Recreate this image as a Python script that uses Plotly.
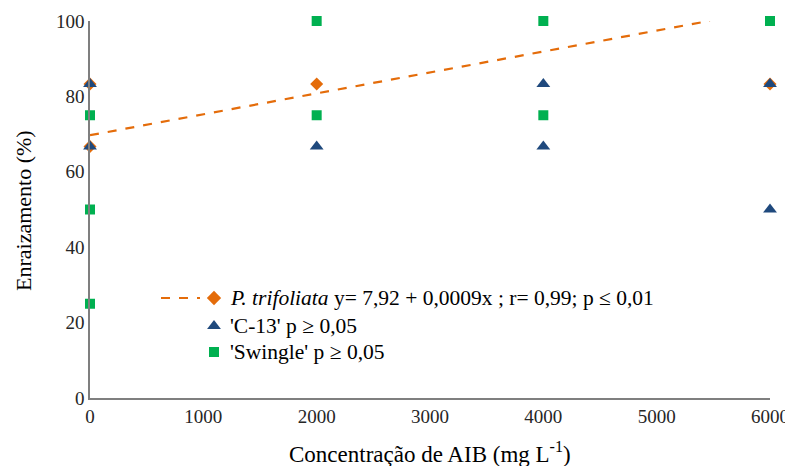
import plotly.graph_objects as go

# ---- data ----
conc = [0, 0, 2000, 6000]
trifoliata = [83.3, 66.7, 83.3, 83.3]
c13_x = [0, 0, 2000, 4000, 4000, 6000, 6000]
c13_y = [83.3, 66.7, 66.7, 83.3, 66.7, 83.3, 50]
swingle_x = [0, 0, 0, 2000, 2000, 4000, 4000, 6000]
swingle_y = [75, 50, 25, 100, 75, 100, 75, 100]
trend_intercept = 69.7
trend_slope = 0.00555
trend_x = [0, 5470]
trend_y = [trend_intercept + trend_slope * v for v in trend_x]

x_ticks = [0, 1000, 2000, 3000, 4000, 5000, 6000]
y_ticks = [0, 20, 40, 60, 80, 100]

ORANGE = "#E46C0A"
BLUE = "#1F497D"
GREEN = "#00B050"
AXIS = "#7F7F7F"
FONT = "Liberation Serif, Times New Roman, DejaVu Serif, serif"

OFF = 8  # page body margin
W, H = 793 - OFF, 466 - OFF
L, R, T, B = 90 - OFF, 770 - OFF, 21 - OFF, 398 - OFF

fig = go.Figure()
fig.add_trace(go.Scatter(x=trend_x, y=trend_y, mode="lines",
                         line=dict(color=ORANGE, width=2.2, dash="dash"),
                         cliponaxis=False, showlegend=False, hoverinfo="skip"))
fig.add_trace(go.Scatter(x=conc, y=trifoliata, mode="markers",
                         marker=dict(symbol="diamond", size=10, color=ORANGE),
                         cliponaxis=False, showlegend=False))
fig.add_trace(go.Scatter(x=c13_x, y=c13_y, mode="markers",
                         marker=dict(symbol="triangle-up", size=12, color=BLUE),
                         cliponaxis=False, showlegend=False))
fig.add_trace(go.Scatter(x=swingle_x, y=swingle_y, mode="markers",
                         marker=dict(symbol="square", size=10, color=GREEN),
                         cliponaxis=False, showlegend=False))

# ---- custom legend (overlay axis in plot-fraction coordinates) ----
def fx(px):
    return (px - OFF - L) / (R - L)
def fy(py):
    return (B - (py - OFF)) / (B - T)

rows = [298, 326, 352]
fig.add_trace(go.Scatter(x=[fx(161), fx(200)], y=[fy(rows[0])] * 2, mode="lines",
                         line=dict(color=ORANGE, width=2.2, dash="dash"),
                         xaxis="x2", yaxis="y2", showlegend=False, hoverinfo="skip"))
fig.add_trace(go.Scatter(x=[fx(214)], y=[fy(rows[0])], mode="markers",
                         marker=dict(symbol="diamond", size=11, color=ORANGE),
                         xaxis="x2", yaxis="y2", showlegend=False, hoverinfo="skip"))
fig.add_trace(go.Scatter(x=[fx(214)], y=[fy(rows[1])], mode="markers",
                         marker=dict(symbol="triangle-up", size=12, color=BLUE),
                         xaxis="x2", yaxis="y2", showlegend=False, hoverinfo="skip"))
fig.add_trace(go.Scatter(x=[fx(214)], y=[fy(rows[2])], mode="markers",
                         marker=dict(symbol="square", size=10, color=GREEN),
                         xaxis="x2", yaxis="y2", showlegend=False, hoverinfo="skip"))

labels = ["<i>P. trifoliata</i> y= 7,92 + 0,0009x ; r= 0,99; p ≤ 0,01",
          "'C-13' p ≥ 0,05",
          "'Swingle' p ≥ 0,05"]
for lab, py in zip(labels, rows):
    fig.add_annotation(x=fx(228), y=fy(py), xref="paper", yref="paper",
                       text=lab, showarrow=False, xanchor="left", yanchor="middle",
                       font=dict(family=FONT, size=21.5, color="#000000"))

# axis titles
fig.add_annotation(x=fx(23), y=fy(211), xref="paper", yref="paper",
                   text="Enraizamento (%)", textangle=-90, showarrow=False,
                   xanchor="center", yanchor="middle",
                   font=dict(family=FONT, size=22, color="#000000"))
fig.add_annotation(x=fx(430), y=fy(452), xref="paper", yref="paper",
                   text="Concentração de AIB (mg L<sup>-1</sup>)", showarrow=False,
                   xanchor="center", yanchor="middle",
                   font=dict(family=FONT, size=23, color="#000000"))

fig.update_layout(
    width=W, height=H,
    margin=dict(l=L, r=W - R, t=T, b=H - B, autoexpand=False),
    paper_bgcolor="white", plot_bgcolor="white",
    font=dict(family=FONT, size=19, color="#000000"),
    xaxis=dict(range=[0, 6000], tickvals=x_ticks, showgrid=False, zeroline=False,
               showline=True, linecolor=AXIS, linewidth=1.5, ticks="",
               automargin=False,
               tickfont=dict(family=FONT, size=19, color="#262626")),
    yaxis=dict(range=[0, 100], tickvals=y_ticks, showgrid=False, zeroline=False,
               showline=True, linecolor=AXIS, linewidth=1.5, ticks="",
               automargin=False,
               tickfont=dict(family=FONT, size=19, color="#262626")),
    xaxis2=dict(range=[0, 1], overlaying="x", visible=False),
    yaxis2=dict(range=[0, 1], overlaying="y", visible=False),
    showlegend=False,
)

fig.write_html("out.html")
